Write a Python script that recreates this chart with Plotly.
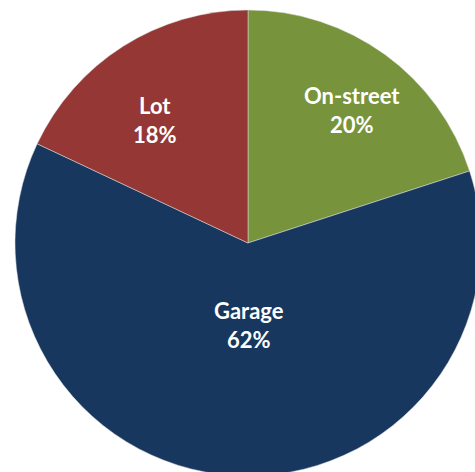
import plotly.graph_objects as go

labels = ["On-street", "Garage", "Lot"]
values = [20, 62, 18]
colors = ["#77933C", "#17375E", "#953735"]

total = sum(values)
label_texts = [f"{lab}<br>{round(100 * v / total)}%" for lab, v in zip(labels, values)]

# label placement (paper coordinates), layout only
label_xy = [(0.7184, 0.7755), (0.5082, 0.3367), (0.3163, 0.7551)]

fig = go.Figure(go.Pie(
    labels=labels,
    values=values,
    sort=False,
    direction="clockwise",
    rotation=0,
    marker=dict(colors=colors, line=dict(color="#E0E0E0", width=0.5)),
    textinfo="none",
    showlegend=False,
    hoverinfo="skip",
    domain=dict(x=[0.0306, 0.9816], y=[0.0286, 0.9796]),
))

for txt, (x, y) in zip(label_texts, label_xy):
    fig.add_annotation(
        x=x, y=y, xref="paper", yref="paper",
        text=txt, showarrow=False,
        xanchor="center", yanchor="middle",
        font=dict(family="Lato", size=22, color="white", weight="bold"),
    )

fig.update_layout(
    width=490,
    height=490,
    margin=dict(l=0, r=0, t=0, b=0),
    paper_bgcolor="white",
    plot_bgcolor="white",
)

fig.write_html(
    "out.html",
    config={"displayModeBar": False},
    post_script=(
        "document.documentElement.style.margin='0';"
        "document.documentElement.style.overflow='hidden';"
        "document.body.style.margin='0';"
        "document.body.style.overflow='hidden';"
    ),
)
